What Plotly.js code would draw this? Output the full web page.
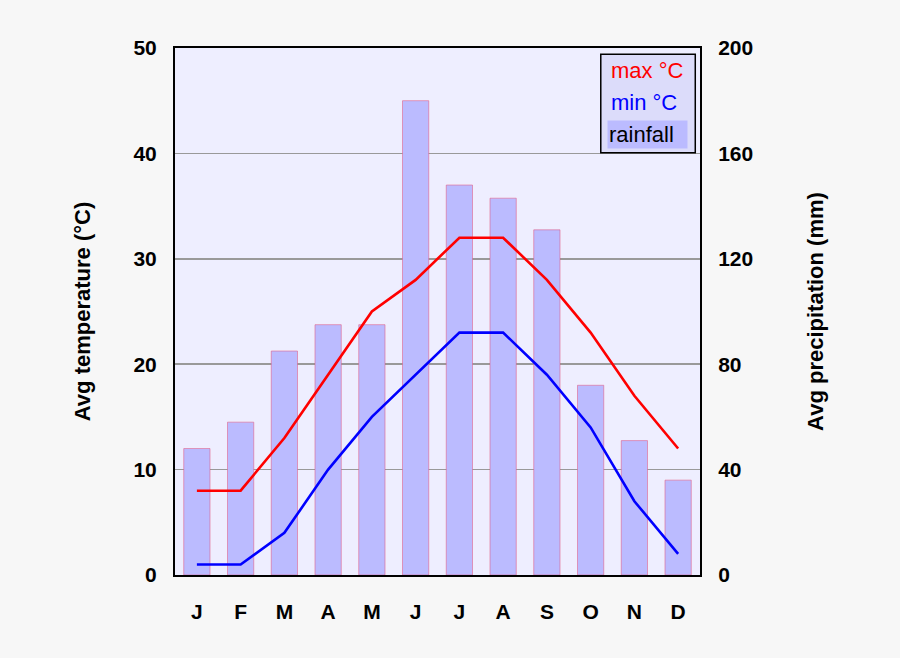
<!DOCTYPE html>
<html>
<head>
<meta charset="utf-8">
<script src="https://cdn.plot.ly/plotly-3.0.1.min.js"></script>
<style>
  html, body { margin: 0; padding: 0; background: #f7f7f7; }
  #container { width: 900px; height: 658px; }
</style>
</head>
<body>
<div id="container"></div>
<script>
// month letters and climate values
var months = ['J', 'F', 'M', 'A', 'M', 'J', 'J', 'A', 'S', 'O', 'N', 'D'];
var maxTemp = [8, 8, 13, 19, 25, 28, 32, 32, 28, 23, 17, 12];
var minTemp = [1, 1, 4, 10, 15, 19, 23, 23, 19, 14, 7, 2];
var rainfall = [48, 58, 85, 95, 95, 180, 148, 143, 131, 72, 51, 36];

var tempTicks = [0, 10, 20, 30, 40, 50];
var rainTicks = [0, 40, 80, 120, 160, 200];

var pos = months.map(function(m, i) { return i; });

var fam = 'Liberation Sans, Arial, sans-serif';
var boldFont = { family: fam, size: 21, color: '#000', weight: 'bold' };
var titleFont = { family: fam, size: 22, color: '#000', weight: 'bold' };

var data = [];

// rainfall bars on the primary (right) axis so the lines sit above them
data.push({
  x: pos, y: rainfall,
  type: 'bar',
  name: 'rainfall',
  width: 0.6,
  marker: {
    color: '#bbbbff',
    line: { color: 'rgba(225,90,130,0.55)', width: 1 }
  },
  yaxis: 'y'
});

data.push({
  x: pos, y: maxTemp,
  type: 'scatter', mode: 'lines',
  name: 'max °C',
  line: { color: '#ff0000', width: 2.6 },
  yaxis: 'y2'
});

data.push({
  x: pos, y: minTemp,
  type: 'scatter', mode: 'lines',
  name: 'min °C',
  line: { color: '#0000ff', width: 2.6 },
  yaxis: 'y2'
});

var layout = {
  width: 900, height: 658,
  margin: { l: 175, r: 200, t: 48, b: 83 },
  paper_bgcolor: '#f7f7f7',
  plot_bgcolor: '#eeeeff',
  showlegend: false,
  font: { family: fam, size: 18, color: '#000' },
  xaxis: {
    range: [-0.5, 11.5],
    tickvals: pos,
    ticktext: months,
    ticks: '',
    ticklabelstandoff: 17,
    tickfont: boldFont,
    showgrid: false,
    zeroline: false,
    showline: true, linecolor: '#000', linewidth: 2, mirror: true
  },
  yaxis: {
    side: 'right',
    range: [0, 200],
    tickvals: rainTicks,
    ticks: '',
    ticklabelstandoff: 12,
    tickfont: boldFont,
    showgrid: true, gridcolor: '#999999', gridwidth: 1.5,
    zeroline: false,
    showline: true, linecolor: '#000', linewidth: 2,
    title: { text: 'Avg precipitation (mm)', standoff: 55, font: titleFont }
  },
  yaxis2: {
    overlaying: 'y',
    side: 'left',
    range: [0, 50],
    tickvals: tempTicks,
    ticks: '',
    ticklabelstandoff: 12,
    tickfont: boldFont,
    showgrid: false,
    zeroline: false,
    showline: true, linecolor: '#000', linewidth: 2,
    title: { text: 'Avg temperature (°C)', standoff: 37, font: titleFont }
  },
  shapes: [{
    type: 'rect', xref: 'paper', yref: 'paper',
    x0: 0.811, x1: 0.991, y0: 0.801, y1: 0.988,
    fillcolor: '#dcdcfa',
    line: { color: '#000', width: 1.5 }
  }],
  annotations: [
    { text: 'max °C', xref: 'paper', yref: 'paper', x: 0.827, y: 0.958,
      xanchor: 'left', yanchor: 'middle', showarrow: false,
      font: { family: fam, size: 22, color: '#ff0000' } },
    { text: 'min °C', xref: 'paper', yref: 'paper', x: 0.827, y: 0.896,
      xanchor: 'left', yanchor: 'middle', showarrow: false,
      font: { family: fam, size: 22, color: '#0000ff' } },
    { text: 'rainfall&nbsp;&nbsp;', xref: 'paper', yref: 'paper', x: 0.823, y: 0.835,
      xanchor: 'left', yanchor: 'middle', showarrow: false,
      bgcolor: '#bbbbff', borderpad: 1,
      font: { family: fam, size: 22, color: '#000' } }
  ]
};

Plotly.newPlot('container', data, layout, { displayModeBar: false, staticPlot: true });
</script>
</body>
</html>
